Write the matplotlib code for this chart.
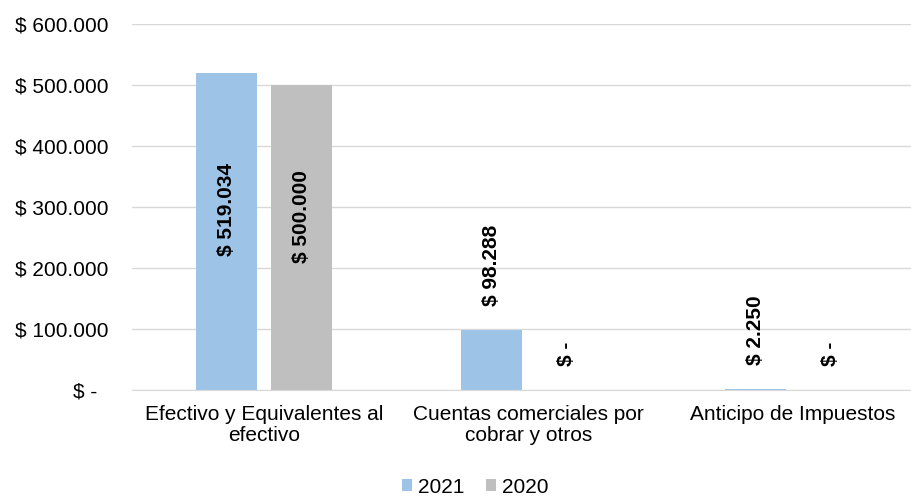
import numpy as np
import matplotlib.pyplot as plt

plt.rcParams['font.family'] = ['Liberation Sans', 'DejaVu Sans']

# datos
categorias = ['Efectivo y Equivalentes al\nefectivo',
              'Cuentas comerciales por\ncobrar y otros',
              'Anticipo de Impuestos']
valores_2021 = [519034, 98288, 2250]
valores_2020 = [500000, 0, 0]
y_ticks = [0, 100000, 200000, 300000, 400000, 500000, 600000]

color_2021 = '#9DC3E6'
color_2020 = '#BFBFBF'


def formato(v):
    if v == 0:
        return '$ -'
    return '$ ' + f'{v:,.0f}'.replace(',', '.')


fig = plt.figure(figsize=(9.12, 4.98), dpi=100)
# el area de trazado se sale un poco por la derecha, como en el original
ax = fig.add_axes([0.1447, 0.2169, 0.870, 0.7349])

x = np.arange(len(categorias))
ancho = 0.23
desp = 0.142

b1 = ax.bar(x - desp, valores_2021, ancho, color=color_2021, label='2021')
b2 = ax.bar(x + desp, valores_2020, ancho, color=color_2020, label='2020')

# etiquetas de datos
for barras, vals in [(b1, valores_2021), (b2, valores_2020)]:
    for rect, v in zip(barras, vals):
        cx = rect.get_x() + rect.get_width() / 2
        if v > 300000:
            ax.text(cx, v * 0.57, formato(v), rotation=90, ha='center', va='center',
                    fontsize=15, fontweight='bold')
        else:
            ax.annotate(formato(v), (cx, v), xytext=(0, 17), textcoords='offset points',
                        rotation=90, ha='center', va='bottom',
                        fontsize=15, fontweight='bold')

ax.set_xlim(-0.5, 2.5)
ax.set_ylim(0, 600000)
ax.set_yticks(y_ticks)
ax.set_yticklabels([formato(v) if v else '$ -  ' for v in y_ticks], fontsize=15)
ax.set_xticks(x)
ax.set_xticklabels(categorias, fontsize=15, linespacing=1.1)

ax.grid(axis='y', color='#D9D9D9', linewidth=1)
ax.set_axisbelow(True)
for s in ['top', 'right', 'left']:
    ax.spines[s].set_visible(False)
ax.spines['bottom'].set_color('#D9D9D9')
ax.tick_params(axis='both', length=0)
ax.tick_params(axis='x', pad=11)
ax.tick_params(axis='y', pad=17)

fig.legend(loc='center', bbox_to_anchor=(0.521, 0.022), ncol=2, frameon=False,
           fontsize=15, handlelength=0.5, handleheight=0.5, handletextpad=0.3,
           columnspacing=1.0)

fig.savefig('out.png', dpi=100)
